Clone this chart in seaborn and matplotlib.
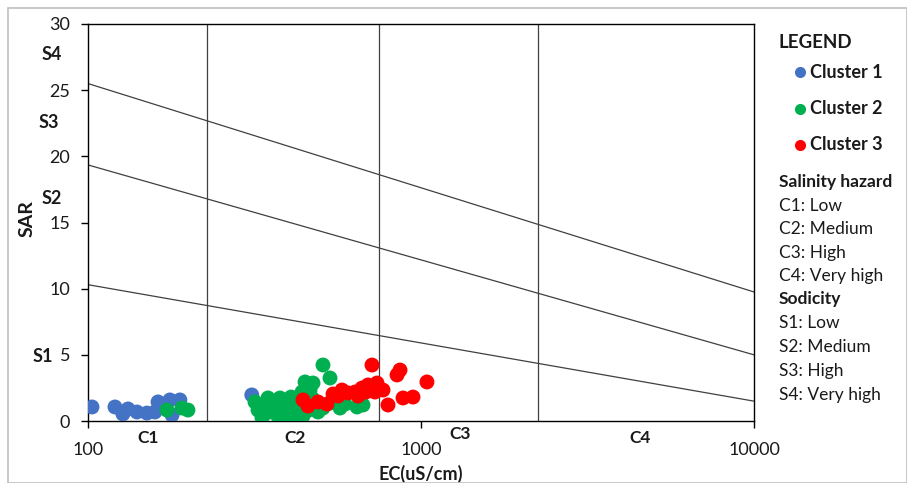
import matplotlib
matplotlib.use("Agg")
import matplotlib.pyplot as plt
from matplotlib.lines import Line2D
from matplotlib.patches import Rectangle
from matplotlib.ticker import LogLocator, NullFormatter, FixedLocator
import seaborn as sns
import pandas as pd

# ---------------- data ----------------
c1_ec = [102.8, 120.5, 127.3, 131.9, 140.3, 150.3, 158.8, 162.3, 176.2, 188.8, 178.8, 310.3, 412.8]
c1_sar = [1.06, 1.06, 0.53, 0.91, 0.68, 0.60, 0.68, 1.44, 1.59, 1.59, 0.45, 1.97, 0.45]

c2_ec = [172.6, 191.4, 199.6,
         317.3, 324.0, 333.1, 340.1, 347.2, 352.1, 361.9, 372.0, 377.2, 385.1,
         393.2, 398.6, 407.0, 415.6, 424.3, 433.2, 442.3, 451.6, 461.0, 470.6,
         439.2, 421.4, 366.9, 333.1, 404.2, 473.9, 448.5, 464.2, 507.7, 533.0,
         507.7, 571.2, 642.4, 669.6, 490.5, 533.0, 591.3, 412.7]
c2_sar = [0.83, 0.98, 0.83,
          1.44, 0.83, 0.45, 1.21, 1.74, 0.68, 1.28, 0.38, 1.74, 0.98,
          1.44, 0.53, 1.81, 1.13, 0.76, 1.59, 0.38, 1.21, 0.83, 1.74,
          2.19, 1.74, 0.83, 0.23, 0.23, 2.87, 2.95, 2.34, 4.23, 3.25,
          0.98, 0.98, 1.06, 1.21, 0.68, 1.36, 1.28, 0.98]

c3_ec = [442.3, 457.8, 490.5, 522.1, 544.2, 579.1, 603.6, 633.6, 665.0, 693.2,
         712.6, 737.7, 727.5, 769.0, 796.0, 847.3, 864.9, 883.1, 946.2, 1042.0,
         563.4, 647.0, 683.6]
c3_sar = [1.59, 1.13, 1.44, 1.28, 2.04, 2.34, 2.12, 2.19, 2.49, 2.72,
          4.23, 2.87, 2.19, 2.34, 1.21, 3.48, 3.85, 1.74, 1.81, 2.95,
          1.89, 1.89, 2.19]

cluster_names = ["Cluster 1", "Cluster 2", "Cluster 3"]
cluster_colors = ["#4472C4", "#00B050", "#FF0000"]

# salinity class boundaries (EC) and sodicity boundary lines (SAR at EC=100 and EC=10000)
ec_bounds = [227, 750, 2250]
line_ec = [100, 10000]
sar_at_100 = [25.5, 19.35, 10.3]
sar_at_10000 = [9.75, 5.0, 1.5]

x_ticks = [100, 1000, 10000]
y_ticks = [0, 5, 10, 15, 20, 25, 30]

c_labels = ["C1", "C2", "C3", "C4"]
c_label_pos = [(148, 438), (295, 438), (460, 434), (640, 438)]
s_labels = ["S4", "S3", "S2", "S1"]
s_label_pos = [(52, 55), (49, 122), (52, 198), (43, 356)]

legend_sal = ["C1: Low", "C2: Medium", "C3: High", "C4: Very high"]
legend_sod = ["S1: Low", "S2: Medium", "S3: High", "S4: Very high"]

# ---------------- figure ----------------
sns.set_style("white")
plt.rcParams["font.family"] = ["Lato", "DejaVu Sans"]

TXT = "#1a1a1a"
W, H = 907, 483
fig = plt.figure(figsize=(W / 100, H / 100), dpi=100)
ax = fig.add_axes([88 / W, 1 - 421 / H, (754 - 88) / W, (421 - 24) / H])

df = pd.DataFrame({
    "EC": c1_ec + c2_ec + c3_ec,
    "SAR": c1_sar + c2_sar + c3_sar,
    "Cluster": [cluster_names[0]] * len(c1_ec) + [cluster_names[1]] * len(c2_ec)
               + [cluster_names[2]] * len(c3_ec),
})

ax.set_xscale("log")
for xb in ec_bounds:
    ax.axvline(xb, color="#404040", lw=0.9, zorder=1)
for a, b in zip(sar_at_100, sar_at_10000):
    ax.plot(line_ec, [a, b], color="#404040", lw=0.9, zorder=1)

sns.scatterplot(data=df, x="EC", y="SAR", hue="Cluster", hue_order=cluster_names,
                palette=cluster_colors, s=115, linewidth=0, legend=False, ax=ax, zorder=3)

ax.set_xlim(100, 10000)
ax.set_ylim(0, 30)
ax.xaxis.set_major_locator(FixedLocator(x_ticks))
ax.set_xticklabels([str(v) for v in x_ticks])
ax.xaxis.set_minor_locator(LogLocator(base=10, subs=range(2, 10)))
ax.xaxis.set_minor_formatter(NullFormatter())
ax.set_yticks(y_ticks)
ax.tick_params(axis="both", which="major", direction="out", length=4.7, width=1,
               labelsize=13, color="black", labelcolor=TXT)
ax.tick_params(axis="y", which="major", pad=8)
ax.tick_params(axis="x", which="major", pad=10.5)
ax.tick_params(axis="x", which="minor", direction="out", length=4.5, width=0.8, color="black")
ax.tick_params(bottom=True, left=True)
for sp in ax.spines.values():
    sp.set_color("black")
    sp.set_linewidth(1.0)

ax.set_xlabel("EC(uS/cm)", fontsize=13, fontweight="bold", labelpad=5, color=TXT)
ax.set_ylabel("SAR", fontsize=14, fontweight="bold", color=TXT)
ax.yaxis.set_label_coords(-0.078, 0.509)

def fxy(px, py):
    return px / W, 1 - py / H

for lab, (px, py) in zip(c_labels, c_label_pos):
    fig.text(*fxy(px, py), lab, fontsize=12.5, fontweight="bold", ha="center", va="center", color=TXT)
for lab, (px, py) in zip(s_labels, s_label_pos):
    fig.text(*fxy(px, py), lab, fontsize=13, fontweight="bold", ha="center", va="center", color=TXT)

# legend
fig.text(*fxy(779, 43), "LEGEND", fontsize=13.5, fontweight="bold", ha="left", va="center", color=TXT)
for i, (name, col) in enumerate(zip(cluster_names, cluster_colors)):
    py = 72 + i * 36.5
    fig.add_artist(Line2D([800 / W], [1 - py / H], marker="o", markersize=8,
                          color=col, markeredgewidth=0, linestyle="none",
                          transform=fig.transFigure))
    fig.text(*fxy(810, py), name, fontsize=13, fontweight="bold", ha="left", va="center", color=TXT)

fig.text(*fxy(779, 182), "Salinity hazard", fontsize=12.5, fontweight="bold", ha="left", va="center", color=TXT)
for i, t in enumerate(legend_sal):
    fig.text(*fxy(779, 206 + i * 23.3), t, fontsize=12.5, ha="left", va="center", color=TXT)
fig.text(*fxy(779, 299), "Sodicity", fontsize=12.5, fontweight="bold", ha="left", va="center", color=TXT)
for i, t in enumerate(legend_sod):
    fig.text(*fxy(779, 323 + i * 24), t, fontsize=12.5, ha="left", va="center", color=TXT)

# outer border
fig.add_artist(Rectangle((8 / W, 0), 1 - 8 / W, 1 - 8 / H, transform=fig.transFigure,
                         fill=False, edgecolor="#BFBFBF", lw=1.2))

fig.savefig("out.png", dpi=100)
